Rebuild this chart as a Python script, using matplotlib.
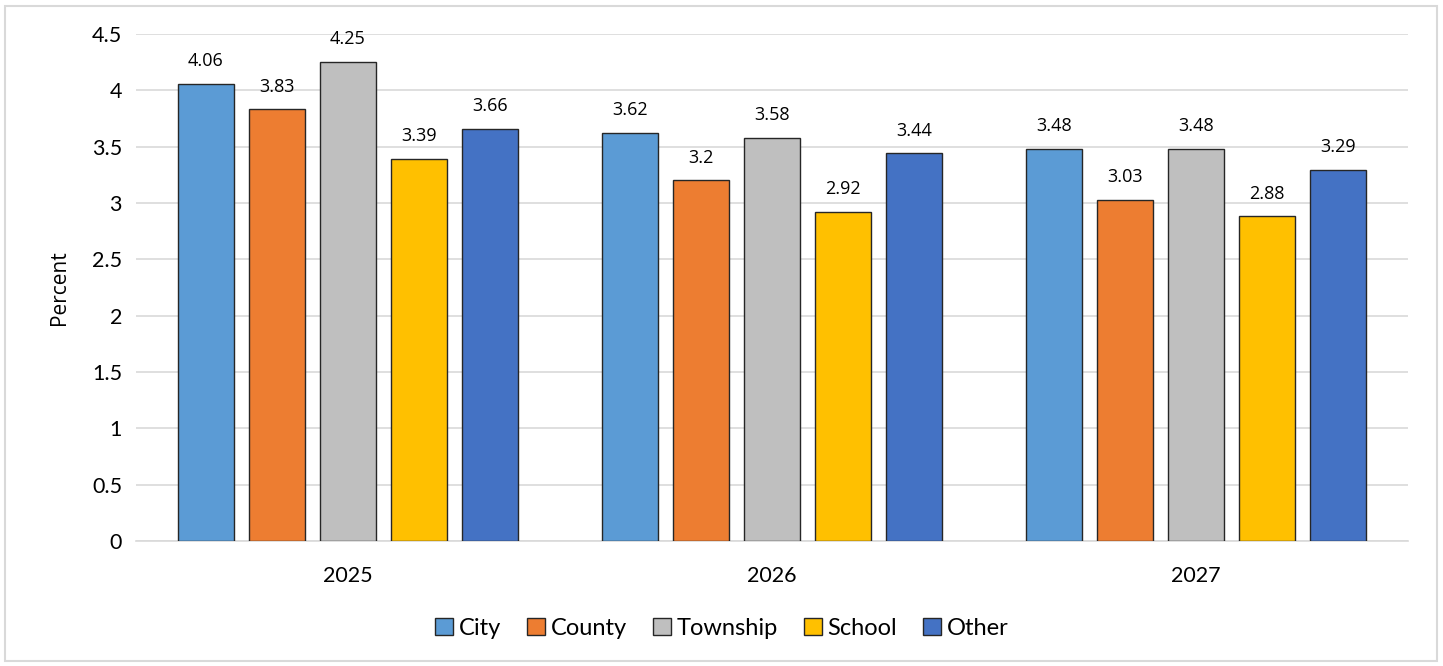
import numpy as np
import matplotlib.pyplot as plt
from matplotlib.patches import Rectangle

# Dados por ano e por tipo de unidade
anos = ['2025', '2026', '2027']
series = ['City', 'County', 'Township', 'School', 'Other']
valores = {
    'City': [4.06, 3.62, 3.48],
    'County': [3.83, 3.20, 3.03],
    'Township': [4.25, 3.58, 3.48],
    'School': [3.39, 2.92, 2.88],
    'Other': [3.66, 3.44, 3.29],
}
rotulos = {
    'City': ['4.06', '3.62', '3.48'],
    'County': ['3.83', '3.2', '3.03'],
    'Township': ['4.25', '3.58', '3.48'],
    'School': ['3.39', '2.92', '2.88'],
    'Other': ['3.66', '3.44', '3.29'],
}
cores = ['#5B9BD5', '#ED7D31', '#BFBFBF', '#FFC000', '#4472C4']
yticks = [0, 0.5, 1, 1.5, 2, 2.5, 3, 3.5, 4, 4.5]
ytick_labels = ['0', '0.5', '1', '1.5', '2', '2.5', '3', '3.5', '4', '4.5']

fonte_eixo = ['Lato', 'DejaVu Sans']
fonte_rotulo = ['Open Sans', 'DejaVu Sans']

fig = plt.figure(figsize=(14.43, 6.66), dpi=100)
ax = fig.add_axes([0.0942, 0.1877, 0.8815, 0.7613])

# Moldura clara em volta da figura
fig.patches.append(Rectangle((5 / 1443, 5 / 666), 1432 / 1443, 655 / 666,
                             transform=fig.transFigure, fill=False,
                             edgecolor='#d9d9d9', linewidth=1.5))

x = np.arange(len(anos))
passo = 0.1677
largura = 0.132
for i, (nome, cor) in enumerate(zip(series, cores)):
    pos = x + (i - 2) * passo
    ax.bar(pos, valores[nome], width=largura, color=cor,
           edgecolor='#262626', linewidth=1.0, label=nome, zorder=3)
    for px, v, t in zip(pos, valores[nome], rotulos[nome]):
        ax.annotate(t, (px, v), xytext=(0, 10), textcoords='offset points',
                    ha='center', va='bottom', fontsize=13,
                    family=fonte_rotulo, color='#000000')

ax.set_xlim(-0.5, 2.5)
ax.set_ylim(0, 4.5)
ax.set_xticks(x)
ax.set_xticklabels(anos, fontsize=15.5, family=fonte_eixo)
ax.set_yticks(yticks)
ax.set_yticklabels(ytick_labels, fontsize=15.5, family=fonte_eixo)
ax.tick_params(length=0, pad=10)
ax.tick_params(axis='x', pad=18)
ax.yaxis.grid(True, color='#d9d9d9', linewidth=1.2, zorder=0)
ax.set_axisbelow(True)
for lado in ['top', 'right', 'left']:
    ax.spines[lado].set_visible(False)
ax.spines['bottom'].set_color('#d9d9d9')
ax.spines['bottom'].set_linewidth(1.2)
ax.set_ylabel('Percent', fontsize=15, family=fonte_rotulo, labelpad=16)

leg = ax.legend(loc='upper center', bbox_to_anchor=(0.4607, -0.11), ncol=5,
                frameon=False, prop={'family': fonte_eixo, 'size': 17},
                handlelength=0.75, handleheight=0.75, handletextpad=0.25,
                columnspacing=1.1)
for h in leg.legend_handles:
    h.set_edgecolor('#262626')
    h.set_linewidth(1.0)

fig.savefig('out.png', dpi=100)
